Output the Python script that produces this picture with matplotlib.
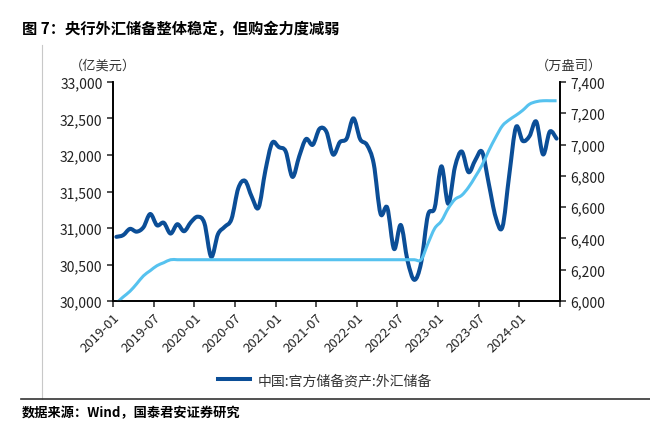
import numpy as np
import pandas as pd
import matplotlib
matplotlib.use('Agg')
import matplotlib.pyplot as plt
from matplotlib.lines import Line2D
from matplotlib.path import Path
from matplotlib.patches import PathPatch

plt.rcParams['font.family'] = ['Noto Sans CJK SC', 'DejaVu Sans']

# 月份 2019-01 .. 2024-06
months = pd.date_range('2019-01-01', '2024-06-01', freq='MS').strftime('%Y-%m').tolist()

# 外汇储备（亿美元）
fx_reserves = [
    30879, 30902, 30988, 30950, 31010, 31192, 31037, 31072, 30924, 31052, 30956, 31079,
    31155, 31067, 30606, 30915, 31017, 31123, 31544, 31646, 31426, 31280, 31785, 32165,
    32107, 32050, 31700, 31982, 32218, 32140, 32359, 32321, 32006, 32176, 32224, 32502,
    32216, 32138, 31880, 31197, 31278, 30713, 31041, 30549, 30290, 30524, 31175, 31277,
    31845, 31332, 31839, 32048, 31765, 31930, 32043, 31601, 31151, 31012, 31718, 32380,
    32193, 32258, 32457, 32008, 32320, 32224,
]

# 黄金储备（万盎司）
gold_reserves = [
    5987, 6026, 6062, 6110, 6161, 6194, 6226, 6245, 6264, 6264, 6264, 6264,
    6264, 6264, 6264, 6264, 6264, 6264, 6264, 6264, 6264, 6264, 6264, 6264,
    6264, 6264, 6264, 6264, 6264, 6264, 6264, 6264, 6264, 6264, 6264, 6264,
    6264, 6264, 6264, 6264, 6264, 6264, 6264, 6264, 6264, 6264, 6367, 6464,
    6512, 6592, 6650, 6676, 6727, 6795, 6869, 6962, 7046, 7120, 7158, 7187,
    7219, 7258, 7274, 7280, 7280, 7280,
]

tick_idx = list(range(0, 61, 6))
tick_labels = [months[i] for i in tick_idx]

dark = '#0B4E97'
light = '#56C2EF'


def smooth_path(xs, ys):
    # 类似 Excel 平滑线：逐段三次贝塞尔
    p = np.column_stack([xs, ys]).astype(float)
    verts = [p[0]]
    codes = [Path.MOVETO]
    n = len(p)
    for i in range(n - 1):
        p0 = p[i - 1] if i > 0 else p[i]
        p3 = p[i + 2] if i + 2 < n else p[i + 1]
        c1 = p[i] + (p[i + 1] - p0) / 6
        c2 = p[i + 1] - (p3 - p[i]) / 6
        verts += [c1, c2, p[i + 1]]
        codes += [Path.CURVE4] * 3
    return Path(verts, codes)


fig = plt.figure(figsize=(6.5, 4.39), dpi=100)
ax = fig.add_axes([0.1738, 0.312, 0.6877, 0.499])
x = np.arange(len(months)) + 0.5

ax.add_patch(PathPatch(smooth_path(x, fx_reserves), fill=False, edgecolor=dark, lw=2.9,
                       joinstyle='round', capstyle='round'))
ax.set_xlim(0, len(months))
ax.set_ylim(30000, 33000)
ax.set_yticks(range(30000, 33001, 500))
ax.yaxis.set_major_formatter(matplotlib.ticker.FuncFormatter(lambda v, p: f'{int(v):,}'))
ax.set_xticks(tick_idx + [len(months)])
ax.set_xticklabels(tick_labels + [''], rotation=45, ha='right', va='top', rotation_mode='anchor')

ax2 = ax.twinx()
ax2.add_patch(PathPatch(smooth_path(x, gold_reserves), fill=False, edgecolor=light, lw=2.2,
                        joinstyle='round'))
ax2.set_ylim(6000, 7400)
ax2.set_yticks(range(6000, 7401, 200))
ax2.yaxis.set_major_formatter(matplotlib.ticker.FuncFormatter(lambda v, p: f'{int(v):,}'))

for a in (ax, ax2):
    a.spines['top'].set_visible(False)
    for s in ('left', 'right', 'bottom'):
        a.spines[s].set_linewidth(1.2)
        a.spines[s].set_color('black')
    a.tick_params(direction='out', length=4, width=1.1, labelsize=10, colors='#222222')
ax.tick_params(axis='x', labelsize=9.5, pad=3)

# 单位
fig.text(0.108, 0.842, '（亿美元）', fontsize=9.5, color='#333333')
fig.text(0.825, 0.842, '（万盎司）', fontsize=9.5, color='#333333')

# 图例
h = Line2D([], [], color=dark, lw=2.9)
fig.legend([h], ['中国:官方储备资产:外汇储备'], loc='center', bbox_to_anchor=(0.5, 0.132),
           frameon=False, fontsize=10, handlelength=2.3, handletextpad=0.5, labelcolor='#333333')

# 标题和来源
fig.text(0.034, 0.922, '图 7：央行外汇储备整体稳定，但购金力度减弱', fontsize=11, fontweight='bold')
fig.text(0.034, 0.05, '数据来源：Wind，国泰君安证券研究', fontsize=9.5, fontweight='bold')
fig.add_artist(Line2D([0.064, 0.064], [0.088, 0.895], color='#c8c8c8', lw=0.8))
fig.add_artist(Line2D([0.032, 1.0], [0.088, 0.088], color='#333333', lw=1.2))

fig.savefig('out.png', dpi=100)
